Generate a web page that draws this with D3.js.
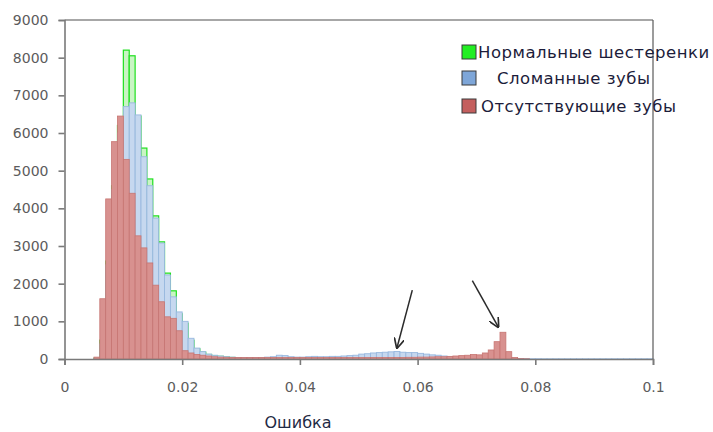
<!DOCTYPE html>
<html>
<head>
<meta charset="utf-8">
<script src="https://cdn.jsdelivr.net/npm/d3@7"></script>
<style>
body { margin: 0; background: #fff; }
text { font-family: "DejaVu Sans", sans-serif; }
</style>
</head>
<body>
<div id="chart"></div>
<script>
// histogram bins: first bin starts at 0.005, each bin 0.001 wide
var binStart = 0.005, binWidth = 0.001;

// "Нормальные шестеренки" (green)
var normalCounts = [
	20, 500, 2600, 4600, 6200, 8200, 8050, 6450, 5600, 4780,
	3800, 3110, 2280, 1810, 1200, 950, 500, 270, 180, 120,
	90, 70, 50, 40, 30, 20, 20, 15, 10, 10
];

// "Сломанные зубы" (blue)
var brokenCounts = [
	20, 400, 2500, 4500, 6000, 6700, 6800, 6480, 5370, 4600,
	3740, 3080, 2230, 1650, 1250, 1000, 550, 290, 195, 130,
	100, 80, 60, 50, 40, 40, 35, 35, 40, 50,
	60, 100, 90, 60, 50, 50, 60, 70, 60, 60,
	70, 70, 80, 90, 100, 130, 140, 160, 170, 180,
	190, 200, 180, 170, 170, 150, 130, 110, 100, 80,
	60, 50, 40, 30, 20, 15, 10, 10, 10, 10,
	10, 10, 8, 8, 6, 6, 5, 5, 5, 5,
	5, 5, 5, 5, 5, 5, 5, 5, 5, 5,
	5, 5, 5, 5, 5
];

// "Отсутствующие зубы" (red)
var missingCounts = [
	50, 1600, 4250, 5770, 6450, 5300, 4400, 3270, 2950, 2550,
	1960, 1520, 1120, 1080, 750, 220, 160, 120, 100, 80,
	60, 50, 45, 40, 40, 40, 40, 40, 40, 40,
	40, 40, 40, 40, 40, 40, 40, 40, 40, 40,
	40, 40, 40, 40, 40, 40, 40, 40, 40, 40,
	40, 40, 40, 45, 45, 50, 50, 55, 60, 60,
	70, 80, 90, 100, 120, 110, 160, 240, 460, 710,
	195, 40, 10, 5
];

var seriesNames = ["Нормальные шестеренки", "Сломанные зубы", "Отсутствующие зубы"];
var xTicks = [0, 0.02, 0.04, 0.06, 0.08, 0.1];
var xTickLabels = ["0", "0.02", "0.04", "0.06", "0.08", "0.1"];
var yTicks = [0, 1000, 2000, 3000, 4000, 5000, 6000, 7000, 8000, 9000];
var xTitle = "Ошибка";
// arrows [x0, y0, x1, y1] in data units
var arrows = [
	[0.0591, 1830, 0.0565, 300],
	[0.0693, 2080, 0.0737, 850]
];

var outerWidth = 713, outerHeight = 432;
var margin = { top: 20, right: 60, bottom: 73, left: 64.5 },
	width = outerWidth - margin.left - margin.right,
	height = outerHeight - margin.top - margin.bottom;

var svg = d3.select("#chart").append("svg")
	.attr("width", outerWidth)
	.attr("height", outerHeight)
	.style("display", "block");

var g = svg.append("g")
	.attr("transform", "translate(" + margin.left + "," + margin.top + ")");

var x = d3.scaleLinear().domain([0, 0.1]).range([0, width]);
var y = d3.scaleLinear().domain([0, 9000]).range([height, 0]);

function renderBars(counts, fill, stroke, strokeWidth) {
	g.append("g").selectAll("rect").data(counts).enter()
		.append("rect")
		.attr("x", function (d, i) { return x(binStart + i * binWidth); })
		.attr("y", function (d) { return y(d); })
		.attr("width", x(binWidth) - x(0))
		.attr("height", function (d) { return y(0) - y(d); })
		.attr("fill", fill)
		.attr("stroke", stroke)
		.attr("stroke-width", strokeWidth);
}

renderBars(normalCounts, "#c9f5c4", "#1fe01f", 1.2);
renderBars(brokenCounts, "#c6d8ef", "#98b8df", 0.9);
renderBars(missingCounts, "#d8918f", "#c77572", 0.8);

// frame top and right
g.append("line")
	.attr("x1", x(0)).attr("x2", x(0.1))
	.attr("y1", y(9000)).attr("y2", y(9000))
	.attr("stroke", "#8a8a8a").attr("stroke-width", 1.5);
g.append("line")
	.attr("x1", x(0.1)).attr("x2", x(0.1))
	.attr("y1", y(9000)).attr("y2", y(0))
	.attr("stroke", "#5a5a5a").attr("stroke-width", 1.2);

var yAxis = d3.axisLeft(y).tickValues(yTicks).tickSize(6).tickPadding(10)
	.tickFormat(function (d) { return d; });
var ya = g.append("g").attr("class", "y axis").call(yAxis);

var xAxis = d3.axisBottom(x).tickValues(xTicks).tickSize(6).tickPadding(17)
	.tickFormat(function (d, i) { return xTickLabels[i]; });
var xa = g.append("g").attr("class", "x axis")
	.attr("transform", "translate(0," + height + ")").call(xAxis);

[ya, xa].forEach(function (a) {
	a.select(".domain").attr("stroke", "#7a7a7a").attr("stroke-width", 1.6);
	a.selectAll(".tick line").attr("stroke", "#7a7a7a").attr("stroke-width", 1.6);
	a.selectAll(".tick text")
		.attr("fill", "#5c5c5c")
		.style("font-size", "14px")
		.style("font-family", "DejaVu Sans, sans-serif");
});

svg.append("text")
	.attr("x", 298)
	.attr("y", 428)
	.attr("text-anchor", "middle")
	.attr("fill", "#1f2a44")
	.style("font-size", "16px")
	.text(xTitle);

// arrows
var defs = svg.append("defs");
defs.append("marker")
	.attr("id", "arrowhead")
	.attr("viewBox", "0 0 10 10")
	.attr("refX", 9).attr("refY", 5)
	.attr("markerWidth", 7).attr("markerHeight", 7)
	.attr("orient", "auto")
	.append("path")
	.attr("d", "M0,0 L10,5 L0,10")
	.attr("fill", "none")
	.attr("stroke", "#2b2b2b")
	.attr("stroke-width", 1.6);

g.append("g").selectAll("line").data(arrows).enter()
	.append("line")
	.attr("x1", function (d) { return x(d[0]); })
	.attr("y1", function (d) { return y(d[1]); })
	.attr("x2", function (d) { return x(d[2]); })
	.attr("y2", function (d) { return y(d[3]); })
	.attr("stroke", "#2b2b2b")
	.attr("stroke-width", 1.5)
	.attr("marker-end", "url(#arrowhead)");

// legend
var legendFill = ["#22ee22", "#7ea6d8", "#c45f5e"];
var legendTextX = [478, 497, 481];
var legendRowY = [45, 71, 99];
var legend = svg.append("g").attr("class", "legend");
seriesNames.forEach(function (name, i) {
	legend.append("rect")
		.attr("x", 462).attr("y", legendRowY[i])
		.attr("width", 14).attr("height", 14)
		.attr("fill", legendFill[i])
		.attr("stroke", "#3a3a3a")
		.attr("stroke-width", 1);
	legend.append("text")
		.attr("x", legendTextX[i])
		.attr("y", legendRowY[i] + 13)
		.attr("fill", "#1c1c3a")
		.style("font-size", "16.5px")
		.style("letter-spacing", "0.5px")
		.text(name);
});
</script>
</body>
</html>
